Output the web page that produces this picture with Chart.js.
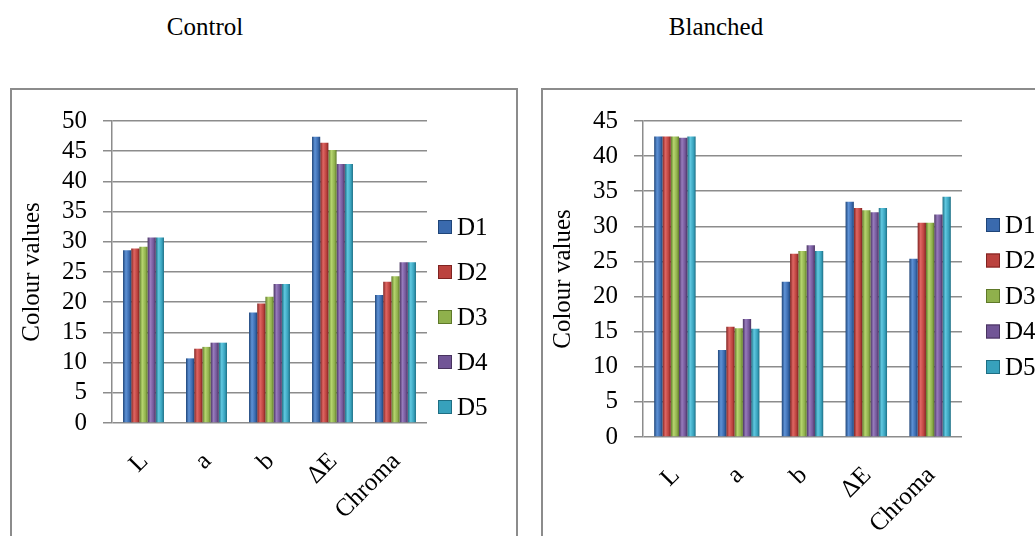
<!DOCTYPE html>
<html>
<head>
<meta charset="utf-8">
<script src="https://cdn.jsdelivr.net/npm/chart.js@4.4.1/dist/chart.umd.min.js"></script>
<style>
    body { margin: 0; background: #fff; width: 1035px; height: 536px; overflow: hidden; position: relative; font-family: 'Liberation Serif', 'Times New Roman', serif; }
    .titulo { position: absolute; top: 13px; font-size: 25px; color: #000; transform: translateX(-50%); white-space: nowrap; }
    .caixa { position: absolute; top: 88px; border: 2px solid #8c8c8c; box-sizing: border-box; background: #fff; }
    .caixa canvas { position: absolute; left: 0; top: 0; }
</style>
</head>
<body>
<div class="titulo" style="left:205px">Control</div>
<div class="titulo" style="left:716px">Blanched</div>
<div class="caixa" style="left:10px; width:508px; height:470px"><canvas id="controlChart" width="504" height="446"></canvas></div>
<div class="caixa" style="left:541px; width:500px; height:470px"><canvas id="blanchedChart" width="496" height="446"></canvas></div>
<script>
// categorias e séries
const categorias = ['L', 'a', 'b', 'ΔE', 'Chroma']
const series = ['D1', 'D2', 'D3', 'D4', 'D5']

// Control
const controlD1 = [28.6, 10.7, 18.3, 47.4, 21.2]
const controlD2 = [28.9, 12.3, 19.8, 46.4, 23.4]
const controlD3 = [29.2, 12.6, 20.9, 45.2, 24.3]
const controlD4 = [30.7, 13.3, 23.0, 42.9, 26.6]
const controlD5 = [30.7, 13.3, 23.0, 42.9, 26.6]

// Blanched
const blanchedD1 = [42.8, 12.4, 22.1, 33.5, 25.4]
const blanchedD2 = [42.8, 15.7, 26.1, 32.6, 30.5]
const blanchedD3 = [42.8, 15.5, 26.5, 32.3, 30.5]
const blanchedD4 = [42.6, 16.8, 27.3, 32.0, 31.7]
const blanchedD5 = [42.8, 15.4, 26.5, 32.6, 34.2]

// marcas do eixo y
const ticksControl = [0, 5, 10, 15, 20, 25, 30, 35, 40, 45, 50]
const ticksBlanched = [0, 5, 10, 15, 20, 25, 30, 35, 40, 45]

const fonte = "'Liberation Serif', 'Times New Roman', serif"
const tamFonte = 25

const cores = [
    { base: '#3a6aae', claro: '#5e92d6', escuro: '#1f4579' },
    { base: '#bb423e', claro: '#df6663', escuro: '#7f2321' },
    { base: '#8fb04c', claro: '#b6d56f', escuro: '#5e7929' },
    { base: '#715596', claro: '#977bbd', escuro: '#48335f' },
    { base: '#37a1bc', claro: '#60c8e0', escuro: '#1e6e83' }
]

// gradiente horizontal pra dar o efeito de cilindro
function sombra(ctx, cor) {
    const el = ctx.element
    if (!el || !isFinite(el.x) || !el.width) return cor.base
    const g = ctx.chart.ctx.createLinearGradient(el.x - el.width / 2, 0, el.x + el.width / 2, 0)
    g.addColorStop(0, cor.escuro)
    g.addColorStop(0.35, cor.claro)
    g.addColorStop(0.75, cor.base)
    g.addColorStop(1, cor.escuro)
    return g
}

// legenda desenhada à direita do gráfico
const legendaLateral = {
    id: 'legendaLateral',
    afterDraw(chart, args, opts) {
        const c = chart.ctx
        c.save()
        c.font = tamFonte + 'px ' + fonte
        c.textBaseline = 'middle'
        c.textAlign = 'left'
        chart.data.datasets.forEach((ds, i) => {
            const y = opts.top + i * opts.passo
            const cor = cores[i]
            c.fillStyle = cor.base
            c.fillRect(opts.x, y - 7, 14, 14)
            c.strokeStyle = cor.escuro
            c.lineWidth = 1
            c.strokeRect(opts.x + 0.5, y - 6.5, 13, 13)
            c.fillStyle = '#000'
            c.fillText(ds.label, opts.x + 19, y + 1)
        })
        c.restore()
    }
}

function montarGrafico(id, valores, marcas, cfg) {
    const ctx = document.getElementById(id).getContext('2d')
    const grafico = new Chart(ctx, {
        type: 'bar',
        data: {
            labels: categorias,
            datasets: series.map((nome, i) => ({
                label: nome,
                data: valores[i],
                backgroundColor: c => sombra(c, cores[i]),
                borderWidth: 0,
                categoryPercentage: 0.65,
                barPercentage: 1.0
            }))
        },
        plugins: [legendaLateral],
        options: {
            responsive: false,
            animation: false,
            layout: {
                padding: { top: 29, right: cfg.padDireita, bottom: 0, left: 0 }
            },
            scales: {
                x: {
                    afterFit: s => { s.height = cfg.alturaX },
                    grid: { display: false, drawTicks: false },
                    border: { display: false },
                    ticks: {
                        color: '#000',
                        font: { family: fonte, size: tamFonte },
                        minRotation: 45,
                        maxRotation: 45,
                        padding: 24,
                        labelOffset: 1
                    }
                },
                y: {
                    min: marcas[0],
                    max: marcas[marcas.length - 1],
                    afterFit: s => { s.width = 100 },
                    afterBuildTicks: s => { s.ticks = marcas.map(v => ({ value: v })) },
                    ticks: {
                        autoSkip: false,
                        color: '#000',
                        font: { family: fonte, size: tamFonte },
                        padding: 16
                    },
                    grid: {
                        color: '#8c8c8c',
                        lineWidth: 1.5,
                        tickLength: 9
                    },
                    border: { color: '#8c8c8c', width: 1.5 },
                    title: {
                        display: true,
                        text: 'Colour values',
                        color: '#000',
                        font: { family: fonte, size: tamFonte },
                        padding: { top: 5, bottom: 0 }
                    }
                }
            },
            plugins: {
                legend: { display: false },
                tooltip: { enabled: false },
                legendaLateral: cfg.legenda
            }
        }
    })
    // segunda passada pra aplicar o gradiente com a posição das barras
    grafico.update('none')
    return grafico
}

montarGrafico('controlChart',
    [controlD1, controlD2, controlD3, controlD4, controlD5],
    ticksControl,
    { padDireita: 89, alturaX: 113, legenda: { x: 426, top: 137, passo: 45 } })

montarGrafico('blanchedChart',
    [blanchedD1, blanchedD2, blanchedD3, blanchedD4, blanchedD5],
    ticksBlanched,
    { padDireita: 77, alturaX: 99, legenda: { x: 443, top: 135, passo: 35.5 } })
</script>
</body>
</html>
